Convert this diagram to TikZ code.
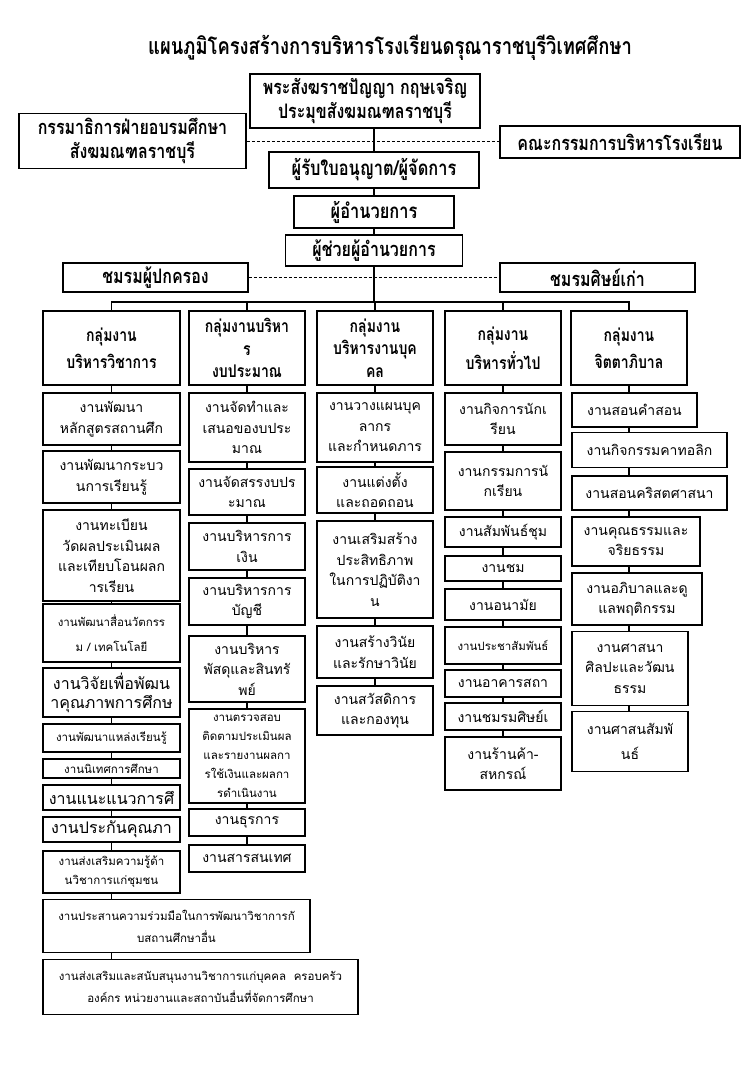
\documentclass[tikz,border=0pt]{standalone}
\usepackage{fontspec}
\newfontfamily\thaifont[Script=Thai]{Loma}
\newfontfamily\thainarrow[Script=Thai,FakeStretch=0.8]{Loma}
\tikzset{
  box/.style={draw, line width=1.7pt, align=center, inner sep=0pt},
  sz/.style 2 args={minimum width=#1, minimum height=#2},
  ttl/.style={font=\thainarrow\bfseries\fontsize{23}{26}\selectfont},
  chief/.style={box, line width=1.9pt, font=\thainarrow\bfseries\fontsize{20}{23.5}\selectfont},
  chiefl/.style={chief, font=\thainarrow\bfseries\fontsize{20.5}{24}\selectfont},
  hd/.style={box, line width=1.9pt, font=\thainarrow\bfseries\fontsize{17.5}{22.5}\selectfont},
  job/.style={box, font=\thaifont\fontsize{14}{20.5}\selectfont},
  jobs/.style={box, font=\thaifont\fontsize{11.5}{19}\selectfont},
  jobl/.style={box, font=\thaifont\fontsize{16}{19}\selectfont},
  ln/.style={line width=1.1pt},
  dln/.style={line width=0.9pt, dash pattern=on 3pt off 2pt}
}
\begin{document}
\begin{tikzpicture}[x=1pt,y=-1pt]
\useasboundingbox (0,0) rectangle (748,1080);
\node[ttl] (title) at (390,48) {แผนภูมิโครงสร้างการบริหารโรงเรียนดรุณาราชบุรีวิเทศศึกษา};

\node[chief, sz={230}{54}] (bishop) at (365,101) {พระสังฆราชปัญญา กฤษเจริญ\\ประมุขสังฆมณฑลราชบุรี};
\node[chief, sz={227}{55}] (comm) at (132.5,141) {กรรมาธิการฝ่ายอบรมศึกษา\\สังฆมณฑลราชบุรี};
\node[chief, sz={240}{32}] (board) at (620,142) {คณะกรรมการบริหารโรงเรียน};
\node[chiefl, sz={210}{36}] (mgr) at (374,170) {ผู้รับใบอนุญาต/ผู้จัดการ};
\node[chiefl, sz={160}{32}] (dir) at (374,212) {ผู้อำนวยการ};
\node[chief, sz={177}{31}] (asst) at (374,250.5) {ผู้ช่วยผู้อำนวยการ};
\node[chief, sz={185}{29}] (par) at (155.5,277.5) {ชมรมผู้ปกครอง};
\node[chief, sz={195}{29}] (alu) at (597.5,277.5) {ชมรมศิษย์เก่า};
\coordinate (bus) at (374,302);
\draw[ln] (bishop.south -| mgr.north) -- (mgr.north) (mgr.south) -- (dir.north) (dir.south) -- (asst.north) (asst.south) -- (bus);
\draw[dln] (comm.east) -- (comm.east -| board.west);
\draw[dln] (par.east) -- (alu.west);

\node[hd, sz={137}{74}] (g1) at (111.5,348) {กลุ่มงาน\\[5pt]บริหารวิชาการ};
\node[hd, sz={116}{74}] (g2) at (247,348) {กลุ่มงานบริหา\\ร\\งบประมาณ};
\node[hd, sz={116}{74}] (g3) at (375,348) {กลุ่มงาน\\บริหารงานบุค\\คล};
\node[hd, sz={116}{74}] (g4) at (503,348) {กลุ่มงาน\\[5pt]บริหารทั่วไป};
\node[hd, sz={116}{74}] (g5) at (629,348) {กลุ่มงาน\\[5pt]จิตตาภิบาล};
\draw[ln] (g1.north) |- (bus) -| (g5.north);
\draw[ln] (g2.north) |- (bus) (g4.north) |- (bus) (g3.north) -- (g3.north |- bus);

\node[job, sz={137}{52}] (a1) at (111.5,419) {งานพัฒนา\\หลักสูตรสถานศึก};
\node[job, sz={137}{52}] (a2) at (111.5,477) {งานพัฒนากระบว\\นการเรียนรู้};
\node[job, sz={137}{91}] (a3) at (111.5,555.5) {งานทะเบียน\\วัดผลประเมินผล\\และเทียบโอนผลก\\ารเรียน};
\node[jobs, sz={137}{58}] (a4) at (111.5,633) {งานพัฒนาสื่อนวัตกรร\\[6pt]ม / เทคโนโลยี};
\node[jobl, sz={137}{49}] (a5) at (111.5,692.5) {งานวิจัยเพื่อพัฒน\\าคุณภาพการศึกษ};
\node[jobs, sz={137}{28}] (a6) at (111.5,738) {งานพัฒนาแหล่งเรียนรู้};
\node[jobs, sz={137}{19}] (a7) at (111.5,768.5) {งานนิเทศการศึกษา};
\node[jobl, sz={137}{25}] (a8) at (111.5,797.5) {งานแนะแนวการศึ};
\node[jobl, sz={137}{25}] (a9) at (111.5,829.5) {งานประกันคุณภา};
\node[jobs, sz={137}{42}] (a10) at (111.5,872) {งานส่งเสริมความรู้ด้า\\นวิชาการแก่ชุมชน};
\node[jobs, sz={267}{53}] (a11) at (176.5,926) {งานประสานความร่วมมือในการพัฒนาวิชาการกั\\[3pt]บสถานศึกษาอื่น};
\node[jobs, sz={315}{55}] (a12) at (200.5,987) {งานส่งเสริมและสนับสนุนงานวิชาการแก่บุคคล\ \ ครอบครัว\\[3pt]องค์กร หน่วยงานและสถาบันอื่นที่จัดการศึกษา};
\draw[ln] (g1.south) -- (a1.north) (a1.south) -- (a2.north) (a2.south) -- (a3.north) (a3.south) -- (a4.north)
  (a4.south) -- (a5.north) (a5.south) -- (a6.north) (a6.south) -- (a7.north) (a7.south) -- (a8.north)
  (a8.south) -- (a9.north) (a9.south) -- (a10.north) (a10.south) -- (a10.south |- a11.north)
  (a10.south |- a11.south) -- (a10.south |- a12.north);

\node[job, sz={116}{69}] (b1) at (247,427.5) {งานจัดทำและ\\เสนอของบประ\\มาณ};
\node[job, sz={116}{46}] (b2) at (247,492) {งานจัดสรรงบปร\\ะมาณ};
\node[job, sz={116}{47}] (b3) at (247,546.5) {งานบริหารการ\\เงิน};
\node[job, sz={116}{47}] (b4) at (247,601.5) {งานบริหารการ\\บัญชี};
\node[job, sz={116}{66}] (b5) at (247,669) {งานบริหาร\\พัสดุและสินทรั\\พย์};
\node[jobs, sz={116}{94}] (b6) at (247,756) {งานตรวจสอบ\\ติดตามประเมินผล\\และรายงานผลกา\\รใช้เงินและผลกา\\รดำเนินงาน};
\node[job, sz={116}{27}] (b7) at (247,822.5) {งานธุรการ};
\node[job, sz={116}{27}] (b8) at (247,858.5) {งานสารสนเทศ};
\draw[ln] (g2.south) -- (b1.north) (b1.south) -- (b2.north) (b2.south) -- (b3.north) (b3.south) -- (b4.north)
  (b4.south) -- (b5.north) (b5.south) -- (b6.north) (b6.south) -- (b7.north) (b7.south) -- (b8.north);

\node[job, sz={116}{69}] (c1) at (375,427.5) {งานวางแผนบุค\\ลากร\\และกำหนดภาร};
\node[job, sz={116}{46}] (c2) at (375,490) {งานแต่งตั้ง\\และถอดถอน};
\node[job, sz={116}{97}] (c3) at (375,569.5) {งานเสริมสร้าง\\ประสิทธิภาพ\\ในการปฏิบัติงา\\น};
\node[job, sz={116}{52}] (c4) at (375,652) {งานสร้างวินัย\\และรักษาวินัย};
\node[job, sz={116}{49}] (c5) at (375,710.5) {งานสวัสดิการ\\และกองทุน};
\draw[ln] (g3.south) -- (c1.north) (c1.south) -- (c2.north) (c2.south) -- (c3.north) (c3.south) -- (c4.north)
  (c4.south) -- (c5.north);

\node[job, sz={116}{52}] (d1) at (503,419) {งานกิจการนักเ\\รียน};
\node[job, sz={116}{58}] (d2) at (503,481) {งานกรรมการนั\\กเรียน};
\node[job, sz={116}{30}] (d3) at (503,532) {งานสัมพันธ์ชุม};
\node[job, sz={116}{25}] (d4) at (503,568.5) {งานชม};
\node[job, sz={116}{31}] (d5) at (503,604.5) {งานอนามัย};
\node[jobs, sz={116}{37}] (d6) at (503,645.5) {งานประชาสัมพันธ์};
\node[job, sz={116}{27}] (d7) at (503,683.5) {งานอาคารสถา};
\node[job, sz={116}{27}] (d8) at (503,716.5) {งานชมรมศิษย์เ};
\node[job, sz={116}{53}] (d9) at (503,763.5) {งานร้านค้า-\\สหกรณ์};
\draw[ln] (g4.south) -- (d1.north) (d1.south) -- (d2.north) (d2.south) -- (d3.north) (d3.south) -- (d4.north)
  (d4.south) -- (d5.north) (d5.south) -- (d6.north) (d6.south) -- (d7.north) (d7.south) -- (d8.north)
  (d8.south) -- (d9.north);

\node[job, sz={125}{34}] (e1) at (634.5,410) {งานสอนคำสอน};
\node[job, sz={155}{35}] (e2) at (649.5,450) {งานกิจกรรมคาทอลิก};
\node[job, sz={155}{34}] (e3) at (649.5,493) {งานสอนคริสตศาสนา};
\node[job, sz={128}{49}] (e4) at (636,541.5) {งานคุณธรรมและ\\จริยธรรม};
\node[job, sz={130}{52}] (e5) at (637,599) {งานอภิบาลและดู\\แลพฤติกรรม};
\node[job, sz={116}{74}] (e6) at (630,668.5) {งานศาสนา\\ศิลปะและวัฒน\\ธรรม};
\node[job, sz={116}{60}] (e7) at (630,741.5) {งานศาสนสัมพั\\[4pt]นธ์};
\draw[ln] (g5.south) -- (g5.south |- e1.north) (g5.south |- e1.south) -- (g5.south |- e2.north)
  (g5.south |- e2.south) -- (g5.south |- e3.north) (g5.south |- e3.south) -- (g5.south |- e4.north)
  (g5.south |- e4.south) -- (g5.south |- e5.north) (g5.south |- e5.south) -- (g5.south |- e6.north)
  (g5.south |- e6.south) -- (g5.south |- e7.north);
\end{tikzpicture}
\end{document}
